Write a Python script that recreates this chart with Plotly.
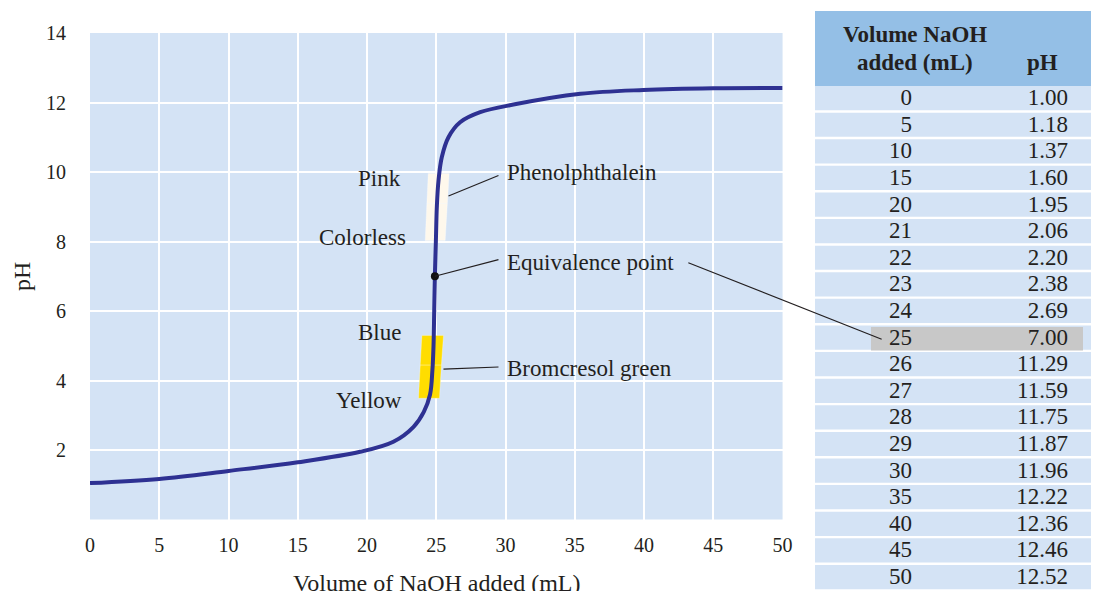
import plotly.graph_objects as go

# table data
volume_ml = [0, 5, 10, 15, 20, 21, 22, 23, 24, 25, 26, 27, 28, 29, 30, 35, 40, 45, 50]
ph_values = [1.00, 1.18, 1.37, 1.60, 1.95, 2.06, 2.20, 2.38, 2.69, 7.00,
             11.29, 11.59, 11.75, 11.87, 11.96, 12.22, 12.36, 12.46, 12.52]
highlight_row = 9  # 25 mL, equivalence point

# titration curve
curve_ml = [0, 5, 10, 15, 19.5, 21.9, 23.36, 24.1, 24.55, 24.72, 24.8, 24.85,
            24.9, 24.97, 25.04, 25.16, 25.4, 25.88, 26.72, 28.17, 30.57, 35.4,
            39.95, 45, 50]
curve_ph = [1.05, 1.17, 1.40, 1.65, 1.95, 2.24, 2.67, 3.1, 3.6, 4.3, 5.0, 6.0,
            7.03, 8.0, 9.0, 9.76, 10.43, 11.0, 11.43, 11.72, 11.94, 12.25,
            12.36, 12.41, 12.42]
equiv_ml, equiv_ph = 24.9, 7.0

# indicator colour bands (left edge, right edge at low / mid / high pH)
phenol_ph = [8.03, 9.1, 9.96]
phenol_left = [24.2, 24.32, 24.42]
phenol_right = [25.64, 25.8, 25.93]
bromo_ph = [3.49, 4.45, 5.3]
bromo_left = [23.72, 23.84, 23.96]
bromo_right = [25.23, 25.37, 25.52]

FONT = "Liberation Serif"
TXT = "#231f20"
BG = "#d4e3f5"

fig = go.Figure()

# colour bands, each in two halves
for ph, left, right, col in [(phenol_ph, phenol_left, phenol_right, "#fef8ec"),
                             (bromo_ph, bromo_left, bromo_right, "#ffdd00")]:
    for k in range(2):
        fig.add_trace(go.Scatter(
            x=[left[k], right[k], right[k + 1], left[k + 1], left[k]],
            y=[ph[k], ph[k], ph[k + 1], ph[k + 1], ph[k]],
            mode="lines", fill="toself", fillcolor=col,
            line=dict(width=0.6, color="rgba(255,255,255,0.5)"),
            hoverinfo="skip", showlegend=False))

fig.add_trace(go.Scatter(x=curve_ml, y=curve_ph, mode="lines",
                         line=dict(color="#2e3192", width=4, shape="spline", smoothing=1.0),
                         showlegend=False))
fig.add_trace(go.Scatter(x=[equiv_ml], y=[equiv_ph], mode="markers",
                         marker=dict(color="#111111", size=8), showlegend=False))

# table: row backgrounds, highlight, text
n = len(volume_ml)
rows = list(range(n))
fig.add_trace(go.Bar(orientation="h", y=[-1.41], x=[284], base=0, width=2.82,
                     marker=dict(color="#94bfe6", line=dict(width=0)),
                     xaxis="x2", yaxis="y2", showlegend=False, hoverinfo="skip"))
fig.add_trace(go.Bar(orientation="h", y=[r + 0.455 for r in rows], x=[284] * n, base=0,
                     width=0.91, marker=dict(color=BG, line=dict(width=0)),
                     xaxis="x2", yaxis="y2", showlegend=False, hoverinfo="skip"))
fig.add_trace(go.Bar(orientation="h", y=[highlight_row + 0.5], x=[212], base=56,
                     width=0.88, marker=dict(color="#c8c8c8", line=dict(width=0)),
                     xaxis="x2", yaxis="y2", showlegend=False, hoverinfo="skip"))
fig.add_trace(go.Scatter(x=[97] * n, y=[r + 0.5 for r in rows], mode="text",
                         text=[str(v) for v in volume_ml], textposition="middle left",
                         textfont=dict(family=FONT, size=23, color=TXT),
                         xaxis="x2", yaxis="y2", showlegend=False))
fig.add_trace(go.Scatter(x=[253] * n, y=[r + 0.5 for r in rows], mode="text",
                         text=["%.2f" % v for v in ph_values], textposition="middle left",
                         textfont=dict(family=FONT, size=23, color=TXT),
                         xaxis="x2", yaxis="y2", showlegend=False))

fig.add_annotation(x=100, y=-1.92, xref="x2", yref="y2", text="<b>Volume NaOH</b>",
                   showarrow=False, font=dict(family=FONT, size=23, color=TXT))
fig.add_annotation(x=100, y=-0.87, xref="x2", yref="y2", text="<b>added (mL)</b>",
                   showarrow=False, font=dict(family=FONT, size=23, color=TXT))
fig.add_annotation(x=228, y=-0.87, xref="x2", yref="y2", text="<b>pH</b>",
                   showarrow=False, font=dict(family=FONT, size=23, color=TXT))

# labels on the plot
for txt, x, y, anchor in [("Pink", 22.6, 9.82, "right"), ("Colorless", 22.97, 8.12, "right"),
                          ("Blue", 22.6, 5.39, "right"), ("Yellow", 22.68, 3.44, "right"),
                          ("Phenolphthalein", 29.97, 9.99, "left"),
                          ("Equivalence point", 29.97, 7.4, "left"),
                          ("Bromcresol green", 29.97, 4.35, "left")]:
    fig.add_annotation(x=x, y=y, text=txt, showarrow=False, xanchor=anchor,
                       font=dict(family=FONT, size=23, color=TXT))

# x axis title, sitting low as in the original
fig.add_annotation(x=0.5, xref="x domain", y=0.0138, yref="paper", yanchor="middle",
                   text="Volume of NaOH added (mL)", showarrow=False,
                   font=dict(family=FONT, size=24, color=TXT))

# main plot background and leader lines
fig.add_shape(type="rect", xref="x domain", yref="y domain", x0=0, x1=1, y0=0, y1=1,
              fillcolor=BG, line_width=0, layer="below")
for x0, y0, x1, y1 in [(25.88, 9.31, 29.49, 9.90), (equiv_ml, equiv_ph, 29.49, 7.48),
                       (25.52, 4.33, 29.49, 4.39)]:
    fig.add_shape(type="line", xref="x", yref="y", x0=x0, y0=y0, x1=x1, y1=y1,
                  line=dict(color="#231f20", width=1.2))
fig.add_shape(type="line", xref="paper", yref="paper", x0=0.5930, y0=0.5660,
              x1=0.7846, y1=0.4340, line=dict(color="#231f20", width=1.2))

# the page body adds 8px on the left and top, so the figure is 8px smaller
fig.update_layout(
    width=1091, height=583,
    margin=dict(l=82, r=0, t=3, b=0, autoexpand=False),
    paper_bgcolor="white", plot_bgcolor="white",
    barmode="overlay",
    font=dict(family=FONT, color=TXT),
    xaxis=dict(domain=[0, 0.6864], range=[0, 50], tickvals=list(range(0, 51, 5)),
               showgrid=True, gridcolor="white", gridwidth=2, zeroline=False,
               automargin=False,
               ticks="outside", ticklen=7, tickcolor="rgba(0,0,0,0)",
               tickfont=dict(size=20, family=FONT, color=TXT)),
    yaxis=dict(domain=[0.1231, 0.9621], range=[0, 14], tickvals=list(range(2, 15, 2)),
               showgrid=True, gridcolor="white", gridwidth=2, zeroline=False,
               automargin=False,
               ticks="outside", ticklen=19, tickcolor="rgba(0,0,0,0)",
               tickfont=dict(size=20, family=FONT, color=TXT),
               title=dict(text="pH", standoff=8,
                          font=dict(size=24, family=FONT, color=TXT))),
    xaxis2=dict(domain=[0.7185, 1], range=[0, 284], visible=False, anchor="y2"),
    yaxis2=dict(domain=[0, 1], range=[18.98, -2.82], visible=False, anchor="x2"),
)

fig.write_html("out.html")
